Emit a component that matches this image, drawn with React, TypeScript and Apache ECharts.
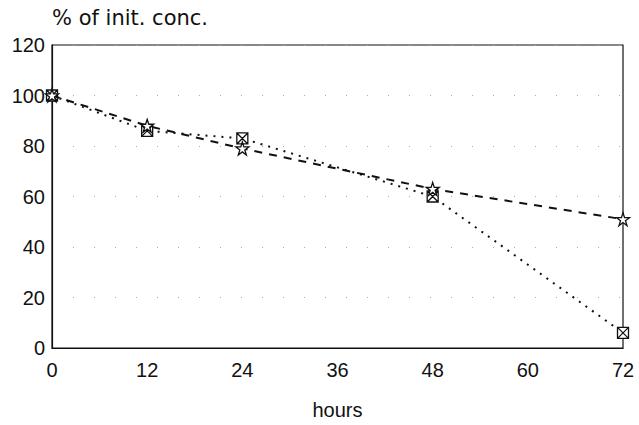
import React, { useEffect, useRef } from "react";
import * as echarts from "echarts";

const hours = [0, 12, 24, 48, 72];
const starSeries = [100, 88, 79, 63, 51];
const squareSeries = [100, 86, 83, 60, 6];
const xTicks = [0, 12, 24, 36, 48, 60, 72];
const yTicks = [0, 20, 40, 60, 80, 100, 120];

const STAR =
  "path://M5,0 L6.2,3.6 L10,3.6 L6.9,5.8 L8.1,9.5 L5,7.2 L1.9,9.5 L3.1,5.8 L0,3.6 L3.8,3.6 Z";
const BOXX =
  "path://M0,0 L10,0 L10,10 L0,10 Z M0,0 L10,10 M10,0 L0,10";

export default function App() {
  const ref = useRef<HTMLDivElement>(null);
  useEffect(() => {
    document.body.style.margin = "0";
    if (!ref.current) return;
    const chart = echarts.init(ref.current, null, { renderer: "svg" });
    const font = "'Liberation Sans', Arial, sans-serif";
    chart.setOption({
      animation: false,
      backgroundColor: "#fff",
      grid: {
        left: 52,
        right: 16,
        top: 45,
        bottom: 74,
        containLabel: false,
        show: true,
        borderColor: "#111",
        borderWidth: 1.2,
      },
      xAxis: {
        type: "value",
        min: 0,
        max: 72,
        interval: 12,
        name: "hours",
        nameLocation: "middle",
        nameGap: 52,
        nameTextStyle: { fontFamily: font, fontSize: 20, color: "#111", verticalAlign: "top" },
        axisLine: { show: true, lineStyle: { color: "#111", width: 1.2 } },
        axisTick: { show: false },
        axisLabel: {
          fontFamily: font,
          fontSize: 20,
          color: "#111",
          margin: 12,
          formatter: (v: number) => (xTicks.includes(v) ? String(v) : ""),
        },
        splitLine: { show: false },
      },
      yAxis: {
        type: "value",
        min: 0,
        max: 120,
        interval: 20,
        name: "% of init. conc.",
        nameLocation: "end",
        nameGap: 27,
        nameTextStyle: {
          fontFamily: "'DejaVu Sans', sans-serif",
          fontSize: 21,
          color: "#111",
          align: "left",
          verticalAlign: "middle",
        },
        axisLine: { show: true, lineStyle: { color: "#111", width: 1.2 } },
        axisTick: { show: false },
        axisLabel: {
          fontFamily: font,
          fontSize: 20,
          color: "#111",
          margin: 7,
          formatter: (v: number) => (yTicks.includes(v) ? String(v) : ""),
        },
        splitLine: {
          show: true,
          lineStyle: { color: "#aaa", type: [1, 20], width: 1 },
        },
      },
      series: [
        {
          type: "line",
          data: hours.map((h, i) => [h, squareSeries[i]]),
          symbol: BOXX,
          symbolSize: 11,
          lineStyle: { color: "#111", width: 2, type: [2, 6] },
          itemStyle: { color: "#fff", borderColor: "#111", borderWidth: 1.3 },
          z: 3,
        },
        {
          type: "line",
          data: hours.map((h, i) => [h, starSeries[i]]),
          symbol: STAR,
          symbolSize: 13,
          lineStyle: { color: "#111", width: 2, type: [8, 7] },
          itemStyle: { color: "#fff", borderColor: "#111", borderWidth: 1.3 },
          z: 4,
        },
      ],
    });
    return () => chart.dispose();
  }, []);
  return <div ref={ref} style={{ width: 639, height: 425 }} />;
}
